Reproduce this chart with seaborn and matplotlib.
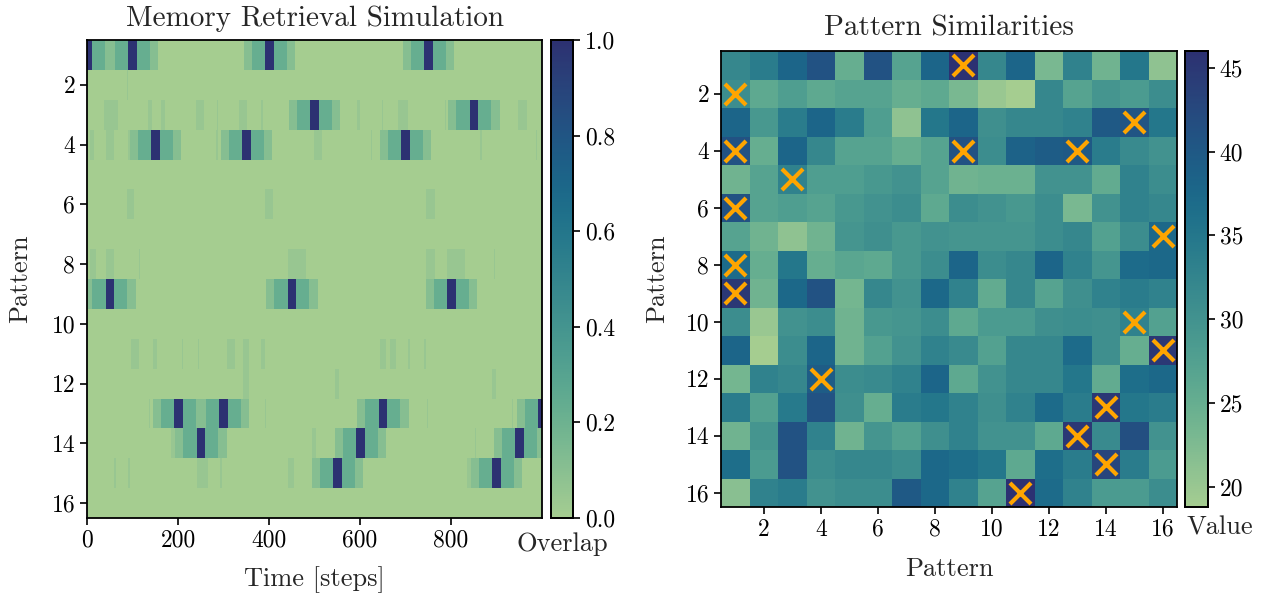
import numpy as np
import pandas as pd
import matplotlib
matplotlib.use("Agg")
import matplotlib.pyplot as plt
import seaborn as sns

# ---------------- data: memory retrieval simulation ----------------
n_patterns = 16
n_steps = 1000
event_times = [0, 50, 100, 150, 200, 250, 300, 350, 400, 450, 500,
               550, 600, 650, 700, 750, 800, 850, 900, 950, 1000]
event_patterns = [1, 9, 1, 4, 13, 14, 13, 4, 1, 9, 3,
                  15, 14, 13, 4, 1, 9, 3, 15, 14, 13]
band_halfwidths = [56, 38, 9]      # outer, shoulder, core (steps)
band_levels = [0.11, 0.23, 1.0]

# faint background stripes (pattern, start step, end step, overlap)
stripe_patterns = [2, 3, 3, 3, 3, 3, 3, 3, 3, 3, 3, 3, 3,
                   4, 4, 4, 4, 4, 4, 4, 4,
                   6, 6, 6,
                   8, 8, 8, 8, 8, 8, 8,
                   11, 11, 11, 11, 11, 11, 11, 11, 11, 11, 11,
                   12, 12, 12,
                   13, 13, 13, 13,
                   14, 14, 14,
                   15, 15, 15, 15, 15, 15, 15]
stripe_start = [88, 38, 134, 163, 240, 285, 333, 383, 594, 648, 683, 786, 947,
                6, 42, 91, 284, 499, 624, 863, 987,
                87, 391, 746,
                6, 42, 114, 441, 746, 791, 894,
                96, 145, 208, 244, 307, 342, 383, 643, 666, 705, 741,
                342, 545, 890,
                136, 391, 747, 934,
                185, 495, 853,
                60, 91, 241, 293, 441, 836, 939]
stripe_end = [91, 69, 143, 172, 257, 288, 351, 386, 599, 651, 705, 789, 966,
              15, 60, 94, 287, 517, 627, 868, 990,
              104, 409, 764,
              20, 60, 117, 481, 764, 831, 897,
              114, 154, 211, 247, 325, 356, 391, 657, 679, 710, 744,
              356, 553, 899,
              139, 394, 750, 937,
              194, 503, 856,
              63, 94, 266, 296, 455, 850, 952]
stripe_level = 0.05

# ---------------- data: pattern similarities ----------------
similarity = [
    [32, 34, 38, 41, 25, 41, 27, 38, 46, 32, 38, 23, 33, 24, 35, 21],
    [31, 26, 28, 26, 27, 27, 25, 26, 23, 20, 18.8, 32, 27, 29.5, 28.5, 31],
    [38, 29, 34, 38, 34, 28, 21, 35, 38, 30.5, 32, 32, 33, 40, 40.5, 35],
    [41, 25, 38, 32, 27, 27, 25, 27, 41, 31, 38.5, 39.5, 40, 34, 31.5, 30],
    [24, 27, 33, 28, 28, 29, 30, 27, 24, 24.5, 24.5, 30, 30, 25.5, 33, 31],
    [41, 27, 28, 27, 29, 30, 31, 26, 31, 30, 29, 31, 23, 30, 33, 32],
    [27, 24, 21, 24, 29.5, 30.5, 29, 30, 29.5, 29.5, 29.5, 31, 32, 27.5, 31, 37.5],
    [37, 25, 35, 25, 26.5, 26, 29, 31, 38, 31, 32, 38, 33, 29.5, 37, 37.5],
    [45, 24, 37.5, 41, 23.5, 32, 30, 37.5, 33, 25.5, 32, 27, 30.5, 33, 34, 33],
    [31, 20, 30, 31, 24, 29, 29.5, 31, 26, 28.5, 28.5, 30.5, 31, 30.5, 33, 27.5],
    [38, 18.8, 31, 38, 24, 27.5, 30, 33, 31.5, 27.5, 32, 32, 37, 30.5, 25, 45],
    [23.5, 33, 32, 39.5, 31, 31.5, 33, 38, 26, 30, 32, 32, 35, 25.5, 36.5, 37.5],
    [34, 27.5, 34.5, 41, 30.5, 25, 34, 35, 33, 30.5, 33, 37, 34, 45, 35, 34],
    [24, 29.5, 41, 33, 24, 29.5, 27.5, 30.5, 33, 30, 30, 26, 45, 31.5, 41.5, 30],
    [36.5, 28.5, 41, 31, 32, 32, 31, 37.5, 36.5, 35, 26, 36.5, 34, 43, 34, 28.5],
    [21.5, 33, 34, 30, 31, 31, 40, 37.5, 33, 27, 46, 37, 33, 28.5, 28.5, 31],
]
marker_rows = [1, 2, 3, 4, 4, 4, 5, 6, 7, 8, 9, 10, 11, 12, 13, 14, 15, 16]
marker_cols = [9, 1, 15, 1, 9, 13, 3, 1, 16, 1, 1, 15, 16, 4, 14, 13, 14, 11]

pattern_ticks = [2, 4, 6, 8, 10, 12, 14, 16]
time_ticks = [0, 200, 400, 600, 800]

# ---------------- build overlap matrix ----------------
overlap = np.zeros((n_patterns, n_steps))
for p, s, e in zip(stripe_patterns, stripe_start, stripe_end):
    overlap[p - 1, s:e] = np.maximum(overlap[p - 1, s:e], stripe_level)
for t, p in zip(event_times, event_patterns):
    for hw, lv in zip(band_halfwidths, band_levels):
        a, b = max(0, t - hw), min(n_steps, t + hw + 1)
        overlap[p - 1, a:b] = np.maximum(overlap[p - 1, a:b], lv)

# ---------------- styling ----------------
sns.set_style("ticks")
plt.rcParams["font.family"] = ["cmr10", "DejaVu Serif"]
plt.rcParams["mathtext.fontset"] = "cm"
plt.rcParams["axes.formatter.use_mathtext"] = True
plt.rcParams["axes.linewidth"] = 1.3

W, H = 1269, 597
fig = plt.figure(figsize=(W / 100, H / 100), dpi=100)

def box(x0, y0, x1, y1):
    return [x0 / W, 1 - y1 / H, (x1 - x0) / W, (y1 - y0) / H]

ax1 = fig.add_axes(box(87, 40, 542, 518))
cax1 = fig.add_axes(box(551, 40, 573, 518))
ax2 = fig.add_axes(box(721, 51, 1177, 507))
cax2 = fig.add_axes(box(1185, 51, 1208, 507))

tick_fs = 17
label_fs = 19
title_fs = 21

# ---- left heatmap ----
sns.heatmap(pd.DataFrame(overlap), ax=ax1, cmap="crest", vmin=0, vmax=1,
            cbar_ax=cax1, xticklabels=False, yticklabels=False,
            rasterized=True)
ax1.set_xticks(time_ticks)
ax1.set_xticklabels([str(t) for t in time_ticks], fontsize=tick_fs, rotation=0)
ax1.set_yticks([p - 0.5 for p in pattern_ticks])
ax1.set_yticklabels([str(p) for p in pattern_ticks], fontsize=tick_fs, rotation=0)
ax1.set_xlabel("Time [steps]", fontsize=label_fs, labelpad=10)
ax1.set_ylabel("Pattern", fontsize=label_fs, labelpad=14)
ax1.set_title("Memory Retrieval Simulation", fontsize=title_fs, pad=10)

# ---- right heatmap ----
sim_df = pd.DataFrame(similarity, index=range(1, 17), columns=range(1, 17))
sns.heatmap(sim_df, ax=ax2, cmap="crest", cbar_ax=cax2,
            xticklabels=False, yticklabels=False)
ax2.scatter([c - 0.5 for c in marker_cols], [r - 0.5 for r in marker_rows],
            marker="x", s=230, linewidths=3, color="#FFA500", zorder=5)
ax2.set_xticks([p - 0.5 for p in pattern_ticks])
ax2.set_xticklabels([str(p) for p in pattern_ticks], fontsize=tick_fs, rotation=0)
ax2.set_yticks([p - 0.5 for p in pattern_ticks])
ax2.set_yticklabels([str(p) for p in pattern_ticks], fontsize=tick_fs, rotation=0)
ax2.set_xlabel("Pattern", fontsize=label_fs, labelpad=12)
ax2.set_ylabel("Pattern", fontsize=label_fs, labelpad=12)
ax2.set_title("Pattern Similarities", fontsize=title_fs, pad=11)

for ax in (ax1, ax2):
    for sp in ax.spines.values():
        sp.set_visible(True)
        sp.set_color("black")
        sp.set_linewidth(1.3)
    ax.tick_params(axis="both", direction="out", length=5, width=1.2,
                   color="black", labelcolor="black", left=True, bottom=True)

for cax, ticks, fmt, lab in ((cax1, [0, 0.2, 0.4, 0.6, 0.8, 1.0], "{:.1f}", "Overlap"),
                             (cax2, [20, 25, 30, 35, 40, 45], "{:d}", "Value")):
    cax.set_yticks(ticks)
    cax.set_yticklabels([fmt.format(t) for t in ticks], fontsize=tick_fs)
    cax.tick_params(axis="y", direction="out", length=5, width=1.2, right=True,
                    color="black", labelcolor="black")
    for sp in cax.spines.values():
        sp.set_visible(True)
        sp.set_linewidth(1.3)
        sp.set_color("black")
    cax.set_xlabel(lab, fontsize=label_fs)

cax1.xaxis.set_label_coords(0.5, -0.03)
cax1.xaxis.label.set_va("top")
cax2.xaxis.set_label_coords(0.05, -0.02)
cax2.xaxis.label.set_ha("left")
cax2.xaxis.label.set_va("top")

for a in (ax1, ax2):
    cb = a.collections[0].colorbar
    cb.outline.set_visible(True)
    cb.outline.set_linewidth(1.3)
    cb.outline.set_edgecolor("black")

fig.savefig("out.png", dpi=100)
